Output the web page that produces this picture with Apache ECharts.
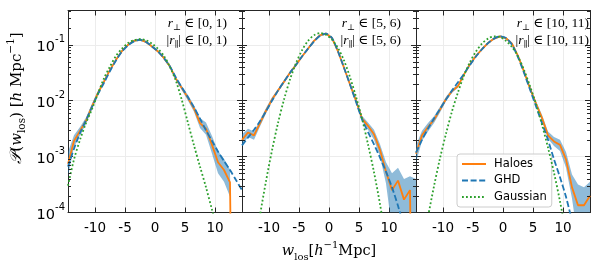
<!DOCTYPE html>
<html><head><meta charset="utf-8">
<script src="https://cdn.jsdelivr.net/npm/echarts@6/dist/echarts.min.js"></script>
<style>html,body{margin:0;padding:0;background:#fff}#c{width:602px;height:264px}</style>
</head><body><div id="c"></div>
<script>
// bin centres (h^-1 Mpc)
const xs = [-14.5,-13.5,-12.5,-11.5,-10.5,-9.5,-8.5,-7.5,-6.5,-5.5,-4.5,-3.5,-2.5,-1.5,-0.5,0.5,1.5,2.5,3.5,4.5,5.5,6.5,7.5,8.5,9.5,10.5,11.5,12.5,13.5,14.5];
const xTicks = [-10,-5,0,5,10];
const yTicks = [1e-4,1e-3,1e-2,1e-1];
const panelLabels = [['0, 1','0, 1'],['5, 6','5, 6'],['10, 11','10, 11']];
const seriesNames = ['Haloes','GHD','Gaussian'];
// values are log10 P(w_los); -12 marks an empty bin (P = 0)
const haloes1 = [-3.13,-2.72,-2.54,-2.36,-2.10,-1.86,-1.66,-1.45,-1.27,-1.11,-1.00,-0.93,-0.91,-0.95,-1.03,-1.12,-1.24,-1.39,-1.61,-1.78,-1.95,-2.14,-2.40,-2.50,-2.79,-3.10,-3.24,-3.46,-12,-12];
const ghd1    = [-3.18,-2.86,-2.58,-2.35,-2.11,-1.88,-1.68,-1.47,-1.28,-1.12,-1.01,-0.94,-0.91,-0.95,-1.03,-1.12,-1.24,-1.39,-1.59,-1.77,-1.94,-2.12,-2.32,-2.53,-2.72,-2.91,-3.08,-3.24,-3.42,-3.60];
const gauss1  = [-3.52,-3.05,-2.70,-2.40,-2.15,-1.87,-1.60,-1.39,-1.20,-1.07,-0.97,-0.92,-0.90,-0.92,-0.98,-1.07,-1.20,-1.40,-1.65,-2.00,-2.40,-2.80,-3.18,-3.55,-3.95,-4.35,-4.75,-5.15,-5.55,-5.95];
const lo1 = [-3.35,-2.83,-2.62,-2.42,-2.15,-1.90,-1.69,-1.47,-1.29,-1.13,-1.02,-0.95,-0.93,-0.97,-1.05,-1.14,-1.26,-1.41,-1.64,-1.82,-2.00,-2.20,-2.49,-2.61,-2.95,-3.30,-3.45,-3.72,-12,-12];
const hi1 = [-2.92,-2.62,-2.47,-2.30,-2.05,-1.82,-1.63,-1.43,-1.25,-1.09,-0.98,-0.91,-0.89,-0.93,-1.01,-1.10,-1.22,-1.37,-1.58,-1.74,-1.90,-2.08,-2.31,-2.39,-2.63,-2.90,-3.04,-3.23,-12,-12];
const haloes2 = [-2.70,-2.57,-2.62,-2.40,-2.18,-1.98,-1.82,-1.66,-1.50,-1.36,-1.21,-1.07,-0.93,-0.83,-0.80,-0.88,-1.12,-1.41,-1.71,-2.00,-2.32,-2.45,-2.60,-2.88,-3.27,-3.60,-3.43,-3.77,-3.60,-12];
const ghd2    = [-2.80,-2.66,-2.52,-2.37,-2.19,-2.00,-1.82,-1.66,-1.50,-1.36,-1.21,-1.07,-0.94,-0.84,-0.80,-0.88,-1.12,-1.41,-1.71,-2.02,-2.33,-2.56,-2.78,-3.02,-3.27,-3.55,-3.88,-4.25,-4.6,-5.0];
const gauss2  = [-6.28,-5.48,-4.73,-4.05,-3.44,-2.89,-2.40,-1.98,-1.62,-1.33,-1.10,-0.93,-0.83,-0.79,-0.82,-0.91,-1.06,-1.28,-1.58,-1.93,-2.32,-2.78,-3.28,-3.85,-4.5,-5.2,-6.0,-6.8,-7.7,-8.6];
const lo2 = [-2.80,-2.65,-2.70,-2.46,-2.23,-2.02,-1.85,-1.69,-1.52,-1.38,-1.23,-1.09,-0.95,-0.85,-0.82,-0.90,-1.14,-1.43,-1.74,-2.04,-2.37,-2.52,-2.70,-3.00,-3.48,-4.3,-4.0,-4.6,-4.4,-12];
const hi2 = [-2.60,-2.50,-2.55,-2.34,-2.13,-1.94,-1.79,-1.63,-1.48,-1.34,-1.19,-1.05,-0.91,-0.81,-0.78,-0.86,-1.10,-1.39,-1.68,-1.96,-2.27,-2.39,-2.52,-2.78,-3.10,-3.30,-3.20,-3.40,-3.35,-3.40];
const haloes3 = [-2.95,-2.62,-2.47,-2.34,-2.16,-1.97,-1.83,-1.74,-1.53,-1.35,-1.20,-1.08,-0.97,-0.89,-0.85,-0.88,-0.98,-1.20,-1.48,-1.78,-2.05,-2.31,-2.62,-2.73,-2.79,-3.05,-3.55,-3.87,-3.87,-3.70];
const ghd3    = [-2.93,-2.70,-2.50,-2.32,-2.15,-1.98,-1.82,-1.67,-1.52,-1.36,-1.21,-1.08,-0.97,-0.89,-0.85,-0.88,-1.00,-1.22,-1.50,-1.80,-2.10,-2.40,-2.70,-3.05,-3.37,-3.72,-4.15,-4.6,-5.1,-5.6];
const gauss3  = [-5.33,-4.68,-4.08,-3.53,-3.03,-2.59,-2.19,-1.85,-1.55,-1.31,-1.12,-0.98,-0.89,-0.85,-0.86,-0.93,-1.04,-1.21,-1.45,-1.74,-2.06,-2.43,-2.84,-3.29,-3.80,-4.37,-5.0,-5.7,-6.4,-7.2];
const lo3 = [-3.10,-2.72,-2.55,-2.40,-2.21,-2.01,-1.86,-1.77,-1.55,-1.37,-1.22,-1.10,-0.99,-0.91,-0.87,-0.90,-1.00,-1.22,-1.50,-1.81,-2.09,-2.36,-2.68,-2.81,-2.90,-3.20,-3.75,-4.5,-4.6,-4.3];
const hi3 = [-2.80,-2.54,-2.40,-2.28,-2.11,-1.93,-1.79,-1.71,-1.51,-1.33,-1.18,-1.06,-0.95,-0.87,-0.83,-0.86,-0.96,-1.18,-1.46,-1.75,-2.01,-2.25,-2.55,-2.65,-2.70,-2.92,-3.32,-3.50,-3.55,-3.45];
const minorTickVals = [2e-4,3e-4,4e-4,5e-4,6e-4,7e-4,8e-4,9e-4,2e-3,3e-3,4e-3,5e-3,6e-3,7e-3,8e-3,9e-3,2e-2,3e-2,4e-2,5e-2,6e-2,7e-2,8e-2,9e-2,2e-1,3e-1,4e-1];

const panels = [
  {haloes: haloes1, ghd: ghd1, gauss: gauss1, lo: lo1, hi: hi1},
  {haloes: haloes2, ghd: ghd2, gauss: gauss2, lo: lo2, hi: hi2},
  {haloes: haloes3, ghd: ghd3, gauss: gauss3, lo: lo3, hi: hi3}
];
const P = v => Math.pow(10, v);
const X_MIN = -14.5, X_MAX = 14.5, Y_MIN = 1e-4, Y_MAX = 0.41;
const L0 = 68, W = 174, TOP = 10.5, H = 202;
const FRAME = '#262626';
const GRIDC = '#ececec';
const C_ORANGE = '#ff7f0e', C_BLUE = '#1f77b4', C_GREEN = '#2ca02c';
const MATH = '"Liberation Serif","DejaVu Serif",serif';
const MATHW = '"DejaVu Serif",serif';
const SANS = '"DejaVu Sans",sans-serif';

const grids = [], xAxes = [], yAxes = [], series = [], graphics = [];
function richFor(fam, size, small) {
  return {
    t: {fontFamily: fam, fontSize: size, fill: '#000', color: '#000', lineHeight: 22},
    i: {fontFamily: fam, fontSize: size, fontStyle: 'italic', fill: '#000', color: '#000', lineHeight: 22},
    c: {fontFamily: fam, fontSize: size + 1, fontStyle: 'italic', fill: '#000', color: '#000', lineHeight: 22},
    sub: {fontFamily: fam, fontSize: small, fill: '#000', color: '#000', verticalAlign: 'bottom', lineHeight: 22},
    sup: {fontFamily: fam, fontSize: small, fill: '#000', color: '#000', verticalAlign: 'top', lineHeight: 22}
  };
}

panels.forEach((p, k) => {
  grids.push({left: L0 + k * W, top: TOP, width: W, height: H, outerBoundsMode: 'none', containLabel: false});
  const xBottom = {
    type: 'value', gridIndex: k, min: X_MIN, max: X_MAX, position: 'bottom',
    axisLine: {show: true, onZero: false, lineStyle: {color: FRAME, width: 1}},
    axisTick: {show: true, inside: true, length: 5, lineStyle: {color: FRAME, width: 1}},
    axisLabel: {show: true, margin: 9, fontSize: 13.5, fontFamily: SANS, color: '#000',
      formatter: v => (xTicks.indexOf(v) >= 0 ? String(v) : '')},
    splitLine: {show: true, lineStyle: {color: GRIDC, width: 1}}
  };
  if (k === 1) {
    xBottom.name = '{i|w}{sub|los}{t|[}{i|h}{sup|−1}{t|Mpc]}';
    xBottom.nameLocation = 'middle';
    xBottom.nameGap = 20;
    xBottom.nameTextStyle = {rich: richFor(MATHW, 14.5, 10)};
  }
  xAxes.push(xBottom);
  xAxes.push({
    type: 'value', gridIndex: k, min: X_MIN, max: X_MAX, position: 'top',
    axisLine: {show: true, onZero: false, lineStyle: {color: FRAME, width: 1}},
    axisTick: {show: true, inside: true, length: 5, lineStyle: {color: FRAME, width: 1}},
    axisLabel: {show: false}, splitLine: {show: false}
  });
  yAxes.push({
    type: 'log', logBase: 10, gridIndex: k, min: Y_MIN, max: Y_MAX, position: 'left',
    axisLine: {show: true, onZero: false, lineStyle: {color: FRAME, width: 1}},
    axisTick: {show: true, inside: true, length: 5, lineStyle: {color: FRAME, width: 1}},
    axisLabel: {show: k === 0, margin: 3, color: '#000',
      formatter: v => {
        const hit = yTicks.find(t => Math.abs(Math.log10(v) - Math.log10(t)) < 1e-6);
        if (!hit) return '';
        return '{b|10}{s|' + Math.round(Math.log10(hit)) + '}';
      },
      rich: {
        b: {fontSize: 14.5, fontFamily: SANS, color: '#000', lineHeight: 20, verticalAlign: 'bottom'},
        s: {fontSize: 10, fontFamily: SANS, color: '#000', lineHeight: 20, verticalAlign: 'top'}
      }},
    splitLine: {show: true, lineStyle: {color: GRIDC, width: 1}}
  });
  yAxes.push({
    type: 'log', logBase: 10, gridIndex: k, min: Y_MIN, max: Y_MAX, position: 'right',
    axisLine: {show: true, onZero: false, lineStyle: {color: FRAME, width: 1}},
    axisTick: {show: true, inside: true, length: 5, lineStyle: {color: FRAME, width: 1}},
    axisLabel: {show: false}, splitLine: {show: false}
  });
  const xi = 2 * k, yi = 2 * k;
  // uncertainty band
  series.push({
    type: 'custom', name: 'band' + k, xAxisIndex: xi, yAxisIndex: yi, z: 1, silent: true, clip: true,
    data: xs.map((x, i) => [x, P(p.lo[i]), P(p.hi[i])]),
    encode: {x: 0, y: [1, 2]},
    renderItem: (params, api) => {
      if (params.dataIndex !== 0) return null;
      const cs = params.coordSys;
      const pts = [];
      xs.forEach((x, i) => pts.push(api.coord([x, P(p.hi[i])])));
      for (let i = xs.length - 1; i >= 0; i--) pts.push(api.coord([xs[i], P(p.lo[i])]));
      return {
        type: 'group',
        clipPath: {type: 'rect', shape: {x: cs.x, y: cs.y, width: cs.width, height: cs.height}},
        children: [{type: 'polygon', shape: {points: pts}, style: {fill: 'rgba(31,119,180,0.5)', stroke: null}}]
      };
    }
  });
  series.push({
    type: 'line', name: seriesNames[0], xAxisIndex: xi, yAxisIndex: yi, z: 3,
    data: xs.map((x, i) => [x, P(p.haloes[i])]),
    showSymbol: false, symbol: 'none', clip: true,
    lineStyle: {color: C_ORANGE, width: 1.8}, itemStyle: {color: C_ORANGE}
  });
  series.push({
    type: 'line', name: seriesNames[1], xAxisIndex: xi, yAxisIndex: yi, z: 4, smooth: 0.25,
    data: xs.map((x, i) => [x, P(p.ghd[i])]),
    showSymbol: false, symbol: 'none', clip: true,
    lineStyle: {color: C_BLUE, width: 1.8, type: [6, 2.6]}, itemStyle: {color: C_BLUE}
  });
  series.push({
    type: 'line', name: seriesNames[2], xAxisIndex: xi, yAxisIndex: yi, z: 5, smooth: 0.3,
    data: xs.map((x, i) => [x, P(p.gauss[i])]),
    showSymbol: false, symbol: 'none', clip: true,
    lineStyle: {color: C_GREEN, width: 1.8, type: [1.8, 2.2]}, itemStyle: {color: C_GREEN}
  });
  // logarithmic minor ticks on both sides
  series.push({
    type: 'custom', name: 'minor' + k, xAxisIndex: xi, yAxisIndex: yi, z: 6, silent: true,
    data: minorTickVals.map(v => [0, v]), encode: {x: 0, y: 1},
    renderItem: (params, api) => {
      const cs = params.coordSys;
      const y = Math.round(api.coord([0, api.value(1)])[1]) + 0.5;
      const st = {stroke: FRAME, lineWidth: 1};
      return {type: 'group', children: [
        {type: 'line', shape: {x1: cs.x, y1: y, x2: cs.x + 3, y2: y}, style: st},
        {type: 'line', shape: {x1: cs.x + cs.width - 3, y1: y, x2: cs.x + cs.width, y2: y}, style: st}
      ]};
    }
  });
  // panel annotation
  const rightX = [227, 401, 589][k];
  graphics.push({
    type: 'text', x: rightX, y: 15, z: 10,
    style: {
      text: '{i|r}{sub|⊥}{t| ∈ [' + panelLabels[k][0] + ')}\n{t||}{i|r}{sub|∥}{t|| ∈ [' + panelLabels[k][1] + ')}',
      align: 'right', verticalAlign: 'top',
      rich: {
        t: {fontFamily: MATH, fontSize: 13.5, fill: '#000', lineHeight: 17},
        i: {fontFamily: MATH, fontSize: 13.5, fontStyle: 'italic', fill: '#000', lineHeight: 17},
        sub: {fontFamily: MATH, fontSize: 8.5, fill: '#000', lineHeight: 17, verticalAlign: 'bottom'}
      }
    }
  });
});
// y-axis title
graphics.push({
  type: 'text', x: 17, y: 98, rotation: Math.PI / 2, z: 10,
  style: {
    text: '{c|𝒫}{t|(}{i|w}{sub|los}{t|) [}{i|h}{t| Mpc}{sup|−1}{t|]}',
    align: 'center', verticalAlign: 'middle', rich: richFor(MATHW, 15, 10.5)
  }
});

const chart = echarts.init(document.getElementById('c'), null, {renderer: 'canvas'});
chart.setOption({
  animation: false,
  backgroundColor: '#fff',
  grid: grids, xAxis: xAxes, yAxis: yAxes, series: series,
  legend: {
    data: seriesNames, orient: 'vertical', left: 457, top: 154,
    itemWidth: 24, itemHeight: 12, itemGap: 4.5,
    padding: [4, 5, 4, 4],
    itemStyle: {opacity: 0, borderWidth: 0},
    backgroundColor: 'rgba(255,255,255,0.85)', borderColor: '#cccccc', borderWidth: 1, borderRadius: 3,
    textStyle: {fontSize: 11.5, fontFamily: SANS, color: '#000', padding: [0, 0, 0, 3]}
  },
  graphic: graphics
});
</script>
</body></html>
